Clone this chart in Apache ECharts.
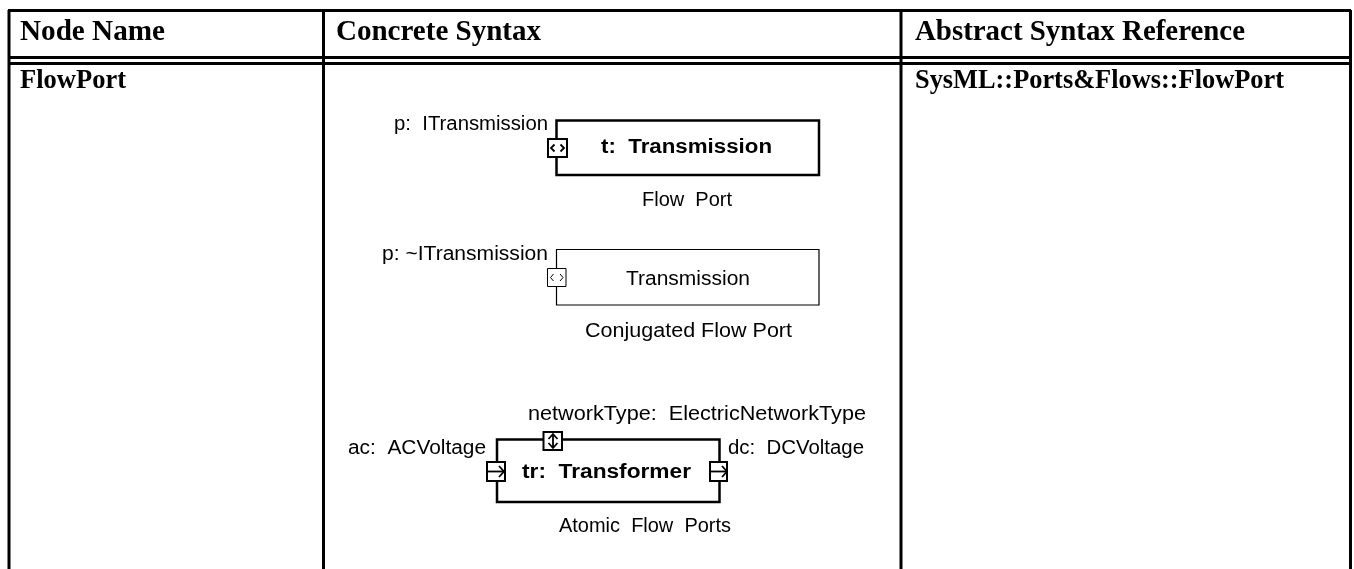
<!DOCTYPE html>
<html>
<head>
  <meta charset="utf-8">
  <title>FlowPort</title>
  <script src="https://cdn.jsdelivr.net/npm/echarts@6/dist/echarts.min.js"></script>
  <style>
    html, body { margin: 0; padding: 0; background: #fff; }
    #main { width: 1354px; height: 569px; }
  </style>
</head>
<body>
  <div id="main"></div>
  <script>
    var tableRules = [
      [8, 10.5, 1351, 10.5],
      [8, 57.5, 1351, 57.5],
      [8, 63.5, 1351, 63.5],
      [9, 10, 9, 569],
      [323.5, 10, 323.5, 569],
      [901, 10, 901, 569],
      [1350.5, 10, 1350.5, 569]
    ];
    var heavyBoxes = [
      [556.5, 120.5, 819, 175],
      [497, 439.5, 719.5, 502]
    ];
    var lightBoxes = [
      [556.5, 249.5, 819, 305]
    ];
    var heavyPorts = [
      [548, 139, 567, 157],
      [487, 462, 505, 481],
      [710, 462, 727, 481],
      [543.5, 432, 562, 450]
    ];
    var lightPorts = [
      [547.5, 268.5, 566, 286.5]
    ];
    // glyph strokes inside the ports
    var heavyGlyphs = [
      [[554.5, 144.5], [551, 148], [554.5, 151.5]],
      [[560.5, 144.5], [564, 148], [560.5, 151.5]],
      [[487, 471.5], [504, 471.5]],
      [[499, 466], [504, 471.5], [499, 477]],
      [[710, 471.5], [727, 471.5]],
      [[722, 466], [727, 471.5], [722, 477]],
      [[553, 435], [553, 447]],
      [[548.5, 439], [553, 434], [557.5, 439]],
      [[548.5, 443], [553, 448], [557.5, 443]]
    ];
    var lightGlyphs = [
      [[553.5, 274], [550.5, 277.5], [553.5, 281]],
      [[560, 274], [563, 277.5], [560, 281]]
    ];

    var headerNames = ['Node Name', 'Concrete Syntax', 'Abstract Syntax Reference'];
    var headerLeft = [20, 336, 915];
    var headerRight = [165, 541, 1245];
    var headerY = [33, 33, 33];
    var cellNames = ['FlowPort', 'SysML::Ports&Flows::FlowPort'];
    var cellLeft = [20, 915];
    var cellRight = [126, 1284];
    var cellY = [81, 81];
    var plainNames = [
      'p:  ITransmission', 'Flow  Port', 'p: ~ITransmission', 'Transmission',
      'Conjugated Flow Port', 'networkType:  ElectricNetworkType',
      'ac:  ACVoltage', 'dc:  DCVoltage', 'Atomic  Flow  Ports'
    ];
    var plainLeft = [394, 642, 382, 626, 585, 528, 348, 728, 559];
    var plainRight = [548, 732, 548, 750, 792, 866, 486, 864, 731];
    var plainY = [124, 200, 254, 279, 331, 414, 448, 448, 526];
    var boldNames = ['t:  Transmission', 'tr:  Transformer'];
    var boldLeft = [601, 522];
    var boldRight = [772, 691];
    var boldY = [147, 472];

    var chart = echarts.init(document.getElementById('main'));
    var measure = document.createElement('canvas').getContext('2d');

    function rows(names, left, right, y) {
      return names.map(function (n, i) { return [left[i], y[i], right[i], n]; });
    }

    function lineSeries(data, width) {
      return {
        type: 'custom', coordinateSystem: 'cartesian2d', clip: false, silent: true,
        data: data,
        renderItem: function (params, api) {
          var a = api.coord([api.value(0), api.value(1)]);
          var b = api.coord([api.value(2), api.value(3)]);
          return { type: 'line', shape: { x1: a[0], y1: a[1], x2: b[0], y2: b[1] },
            style: { stroke: '#000', lineWidth: width, fill: null } };
        }
      };
    }

    function boxSeries(data, width, fill) {
      return {
        type: 'custom', coordinateSystem: 'cartesian2d', clip: false, silent: true,
        data: data,
        renderItem: function (params, api) {
          var a = api.coord([api.value(0), api.value(1)]);
          var b = api.coord([api.value(2), api.value(3)]);
          return { type: 'rect', shape: { x: a[0], y: a[1], width: b[0] - a[0], height: b[1] - a[1] },
            style: { stroke: '#000', lineWidth: width, fill: fill } };
        }
      };
    }

    function glyphSeries(data, width) {
      return {
        type: 'custom', coordinateSystem: 'cartesian2d', clip: false, silent: true,
        data: data.map(function (g, i) { return [i]; }),
        renderItem: function (params, api) {
          var pts = data[params.dataIndex].map(function (p) { return api.coord(p); });
          return { type: 'polyline', shape: { points: pts },
            style: { stroke: '#000', lineWidth: width, fill: null } };
        }
      };
    }

    // labels get stretched to the width they have in the picture
    function textSeries(data, font) {
      return {
        type: 'custom', coordinateSystem: 'cartesian2d', clip: false, silent: true,
        data: data,
        dimensions: ['left', 'y', 'right', 'name'],
        encode: { x: 0, y: 1 },
        renderItem: function (params, api) {
          var d = data[params.dataIndex];
          var p = api.coord([d[0], d[1]]);
          var e = api.coord([d[2], d[1]]);
          measure.font = font;
          return {
            type: 'text', x: p[0], y: p[1],
            scaleX: (e[0] - p[0]) / measure.measureText(d[3]).width,
            style: { text: d[3], x: 0, y: 0, font: font, fill: '#000', align: 'left', verticalAlign: 'middle' }
          };
        }
      };
    }

    chart.setOption({
      animation: false,
      grid: { left: 0, right: 0, top: 0, bottom: 0 },
      xAxis: { type: 'value', min: 0, max: 1354, show: false },
      yAxis: { type: 'value', min: 0, max: 569, inverse: true, show: false },
      series: [
        lineSeries(tableRules, 3),
        boxSeries(heavyBoxes, 2.5, '#fff'),
        boxSeries(lightBoxes, 1.2, '#fff'),
        boxSeries(heavyPorts, 2, '#fff'),
        boxSeries(lightPorts, 1, '#fff'),
        glyphSeries(heavyGlyphs, 1.8),
        glyphSeries(lightGlyphs, 1),
        textSeries(rows(headerNames, headerLeft, headerRight, headerY), 'bold 29px "Liberation Serif"'),
        textSeries(rows(cellNames, cellLeft, cellRight, cellY), 'bold 27px "Liberation Serif"'),
        textSeries(rows(plainNames, plainLeft, plainRight, plainY), '20px "Liberation Sans"'),
        textSeries(rows(boldNames, boldLeft, boldRight, boldY), 'bold 20px "Liberation Sans"')
      ]
    });
  </script>
</body>
</html>
